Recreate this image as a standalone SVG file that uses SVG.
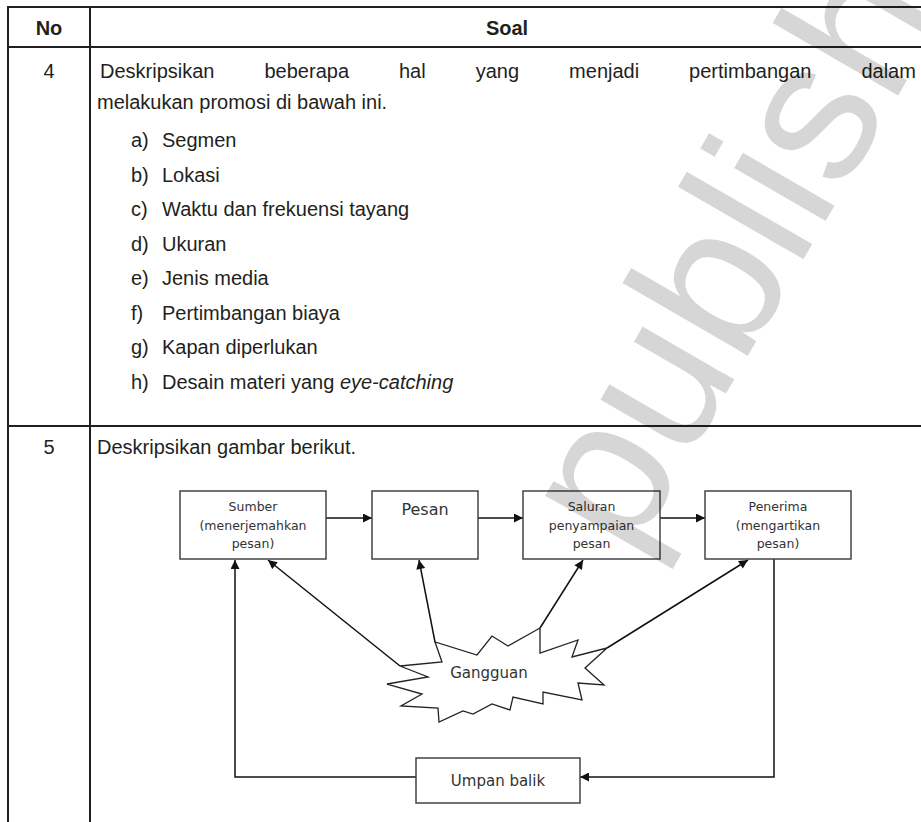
<svg xmlns="http://www.w3.org/2000/svg" width="921" height="822" viewBox="0 0 921 822">
  <style>
    .grid { stroke: #231f20; stroke-width: 2; fill: none; }
    .t { font-family: "Liberation Sans", Arial, sans-serif; font-size: 20px; fill: #231f20; }
    .b { font-weight: bold; }
    .box { fill: #fff; stroke: #444; stroke-width: 1.5; }
    .lbl { font-family: "DejaVu Sans", Verdana, sans-serif; font-size: 12.5px; fill: #333; text-anchor: middle; }
    .big { font-size: 16px; }
    .mid { font-size: 15px; }
    .edge { stroke: #111; stroke-width: 1.5; fill: none; marker-end: url(#ah); }
    .wm { font-family: "Liberation Sans", Arial, sans-serif; font-size: 200px; fill: #000; fill-opacity: 0.16; }
  </style>
  <defs>
    <marker id="ah" viewBox="0 0 10 10" refX="10" refY="5" markerWidth="10" markerHeight="9" markerUnits="userSpaceOnUse" orient="auto">
      <path d="M0,0 L10,5 L0,10 z" fill="#111"/>
    </marker>
  </defs>
  <rect width="921" height="822" fill="#fff"/>

  <!-- table rules -->
  <g id="table">
    <line class="grid" x1="8" y1="7" x2="921" y2="7"/>
    <line class="grid" x1="8" y1="47" x2="921" y2="47"/>
    <line class="grid" x1="8" y1="426" x2="921" y2="426"/>
    <line class="grid" x1="8" y1="6" x2="8" y2="822"/>
    <line class="grid" x1="90" y1="6" x2="90" y2="822"/>
  </g>

  <g id="header">
    <text class="t b" x="49" y="35" text-anchor="middle">No</text>
    <text class="t b" x="507" y="35" text-anchor="middle">Soal</text>
  </g>

  <g id="row4">
    <text class="t" x="49" y="78" text-anchor="middle">4</text>
    <text class="t" y="78"><tspan x="100">Deskripsikan</tspan><tspan x="264.5">beberapa</tspan><tspan x="399">hal</tspan><tspan x="475.7">yang</tspan><tspan x="569.1">menjadi</tspan><tspan x="689.1">pertimbangan</tspan><tspan x="861.4">dalam</tspan></text>
    <text class="t" x="97" y="109">melakukan promosi di bawah ini.</text>
    <g class="t">
      <text x="131" y="147">a)</text><text x="162" y="147">Segmen</text>
      <text x="131" y="182">b)</text><text x="162" y="182">Lokasi</text>
      <text x="131" y="216">c)</text><text x="162" y="216">Waktu dan frekuensi tayang</text>
      <text x="131" y="251">d)</text><text x="162" y="251">Ukuran</text>
      <text x="131" y="285">e)</text><text x="162" y="285">Jenis media</text>
      <text x="131" y="320">f)</text><text x="162" y="320">Pertimbangan biaya</text>
      <text x="131" y="354">g)</text><text x="162" y="354">Kapan diperlukan</text>
      <text x="131" y="389">h)</text><text x="162" y="389">Desain materi yang <tspan font-style="italic">eye-catching</tspan></text>
    </g>
  </g>

  <g id="row5">
    <text class="t" x="49" y="454" text-anchor="middle">5</text>
    <text class="t" x="97" y="454">Deskripsikan gambar berikut.</text>
  </g>

  <!-- communication diagram -->
  <g id="connectors">
    <line class="edge" x1="326" y1="518" x2="372" y2="518"/>
    <line class="edge" x1="478" y1="518" x2="523" y2="518"/>
    <line class="edge" x1="660" y1="518" x2="705" y2="518"/>
    <line class="edge" x1="400" y1="666" x2="268" y2="560"/>
    <line class="edge" x1="435" y1="642" x2="419" y2="560"/>
    <line class="edge" x1="540" y1="628" x2="583" y2="560"/>
    <line class="edge" x1="607" y1="648" x2="748" y2="560"/>
    <polyline class="edge" points="416,777 235,777 235,560"/>
    <polyline class="edge" points="774,559 774,777 580,777"/>
  </g>

  <g id="sumber">
    <rect class="box" x="180" y="491" width="146" height="68"/>
    <text class="lbl" x="253" y="511">Sumber</text>
    <text class="lbl" x="253" y="530">(menerjemahkan</text>
    <text class="lbl" x="253" y="548">pesan)</text>
  </g>
  <g id="pesan">
    <rect class="box" x="372" y="491" width="106" height="68"/>
    <text class="lbl big" x="425" y="515">Pesan</text>
  </g>
  <g id="saluran">
    <rect class="box" x="523" y="491" width="137" height="68"/>
    <text class="lbl" x="591.5" y="511">Saluran</text>
    <text class="lbl" x="591.5" y="530">penyampaian</text>
    <text class="lbl" x="591.5" y="548">pesan</text>
  </g>
  <g id="penerima">
    <rect class="box" x="705" y="491" width="146" height="68"/>
    <text class="lbl" x="778" y="511">Penerima</text>
    <text class="lbl" x="778" y="530">(mengartikan</text>
    <text class="lbl" x="778" y="548">pesan)</text>
  </g>
  <g id="gangguan">
    <polygon fill="#fff" stroke="#222" stroke-width="1.3" stroke-linejoin="miter" points="400,666 442,662 435,642 477,655 492,636 508,646 540,628 540,653 578,640 572,657 607,648 585,668 604,685 578,683 582,700 543,692 543,704 513,697 510,710 492,704 473,714 463,711 439,722 438,708 401,706 422,694 387,684 428,677"/>
    <text class="lbl mid" x="489" y="678">Gangguan</text>
  </g>
  <g id="umpan-balik">
    <rect class="box" x="416" y="758" width="164" height="45"/>
    <text class="lbl mid" x="498" y="786">Umpan balik</text>
  </g>

  <!-- faint publisher mark laid over the page -->
  <text class="wm" transform="translate(630,560) rotate(-60)">publish</text>
</svg>
